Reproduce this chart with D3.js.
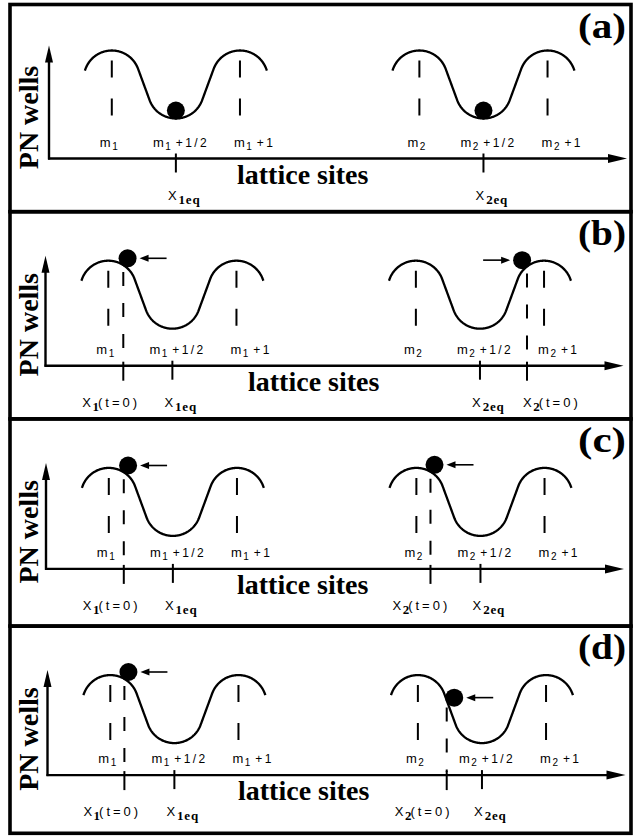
<!DOCTYPE html>
<html>
<head>
<meta charset="utf-8">
<script src="https://cdn.jsdelivr.net/npm/d3@7"></script>
<style>
  html, body { margin: 0; padding: 0; background: #fff; }
  svg { display: block; }
</style>
</head>
<body>
<svg id="chart" width="634" height="836"></svg>
<script>
// Two kinks sitting in Peierls–Nabarro wells, shown at four stages (a)–(d).

// ---- data -------------------------------------------------------------
const panelLabels = ["(a)", "(b)", "(c)", "(d)"];
const kinkIds = ["1", "2"];
const wellOrigins = [0, 2.4];            // m1, m2 in lattice units
const siteOffsets = [0, 0.5, 1];         // m, m+1/2, m+1
const siteSuffixes = ["", "+1/2", "+1"];
const eqOffset = 0.5;                    // X_eq = m + 1/2
// X(t=0) − m of each kink in each panel (null: kink rests at X_eq)
const startOffsets = [[null, null], [0.117, 0.867], [0.117, 0.11], [0.11, 0.225]];
// push applied to each kink: −1 to the left, +1 to the right, 0 none
const pushDirections = [[0, 0], [-1, 1], [-1, -1], [-1, -1]];
const xTitle = "lattice sites";
const yTitle = "PN wells";
const wellExtent = [-0.21, 1.21];        // drawn part of each well, relative to m
const axisDomain = [-0.49, 4.02];        // lattice coordinate at the y axis and at the arrow tip

// ---- layout -----------------------------------------------------------
const frame = { left: 10, right: 631, top: 4.5, panelH: 207.2 };
const panelShift = [0, -3.5, -3, -1.5];
const axisRel = [154, 154, 150, 149];
const humpRel = [46, 49, 49, 49];
const titleShift = [0, 11, 0, 1];
const siteLabelDx = [-12, -23, -6];
const t0LabelDx = [[0, 0], [-41, -4], [-41, -38], [-41, -52]];
const eqLabelDx = -8;
const ballR = 9;
const depthPx = 68, arcR = 28;

const serif = "'Liberation Serif', 'Times New Roman', serif";
const sans = "'Liberation Sans', Arial, sans-serif";

const svg = d3.select("#chart");
const xScale = d3.scaleLinear().domain(axisDomain).range([49, 627]);
const periodPx = xScale(1) - xScale(0);

// Well profile: circular humps and troughs joined by straight flanks.
// u = horizontal distance (px) from the nearest hump; returns drop below hump top (px).
function makeProfile(period, depth, R) {
  const half = period / 2, q = period / 4, hd = depth / 2;
  const L = Math.hypot(q, hd - R);
  const th = Math.atan2(hd - R, q) - Math.acos(R / L);
  const tx = R * Math.cos(th), ty = R + R * Math.sin(th);
  const k = (hd - ty) / (q - tx);
  return u => {
    if (u <= tx) return R - Math.sqrt(Math.max(0, R * R - u * u));
    if (u >= half - tx) {
      const w = half - u;
      return depth - (R - Math.sqrt(Math.max(0, R * R - w * w)));
    }
    return hd + (u - q) * k;
  };
}
const dropAt = makeProfile(periodPx, depthPx, arcR);
// potential in [-1, 1] (1 on a hump, −1 at the well bottom)
function potential(v, m) {
  const s = Math.min(Math.abs(v - m), Math.abs(v - m - 1));
  return 1 - 2 * dropAt(s * periodPx) / depthPx;
}

// panel frames
panelLabels.forEach((lab, p) => {
  const top = frame.top + p * frame.panelH;
  svg.append("rect")
    .attr("x", frame.left).attr("y", top)
    .attr("width", frame.right - frame.left).attr("height", frame.panelH)
    .attr("fill", "none").attr("stroke", "#000").attr("stroke-width", 3.6);
});

function smallText(g, xPos, yPos) {
  return g.append("text").attr("x", xPos).attr("y", yPos)
    .attr("font-family", sans).attr("font-size", 13).attr("fill", "#000");
}

panelLabels.forEach((lab, p) => {
  const top = frame.top + p * frame.panelH;
  const sh = panelShift[p];
  const x = v => xScale(v) + sh;
  const axisY = top + axisRel[p];
  const yScale = d3.scaleLinear().domain([-1, 1]).range([top + humpRel[p] + depthPx, top + humpRel[p]]);
  const g = svg.append("g");

  // axes with arrow heads
  const ax = x(axisDomain[0]), tipX = x(axisDomain[1]);
  const tipY = top + humpRel[p] - 5;
  g.append("line").attr("x1", ax).attr("y1", axisY + 1).attr("x2", ax).attr("y2", tipY + 12)
    .attr("stroke", "#000").attr("stroke-width", 2.4);
  g.append("path").attr("d", `M${ax},${tipY} L${ax - 4},${tipY + 17} L${ax + 4},${tipY + 17} Z`).attr("fill", "#000");
  g.append("line").attr("x1", ax - 1).attr("y1", axisY).attr("x2", tipX - 12).attr("y2", axisY)
    .attr("stroke", "#000").attr("stroke-width", 2.4);
  g.append("path").attr("d", `M${tipX},${axisY} L${tipX - 19},${axisY - 4.5} L${tipX - 19},${axisY + 4.5} Z`).attr("fill", "#000");

  // axis titles and panel label
  g.append("text").attr("x", 237 + titleShift[p]).attr("y", axisY + 25)
    .attr("font-family", serif).attr("font-weight", "bold").attr("font-size", 28)
    .text(xTitle);
  g.append("text").attr("transform", `translate(38,${top + 113}) rotate(-90)`)
    .attr("text-anchor", "middle")
    .attr("font-family", serif).attr("font-weight", "bold").attr("font-size", 28)
    .text(yTitle);
  g.append("text").attr("x", 578).attr("y", top + 33)
    .attr("font-family", serif).attr("font-weight", "bold").attr("font-size", 35)
    .attr("textLength", 48).attr("lengthAdjust", "spacingAndGlyphs")
    .text(lab);

  kinkIds.forEach((id, k) => {
    const m = wellOrigins[k];
    const pts = d3.range(m + wellExtent[0], m + wellExtent[1] + 1e-9, 0.004).map(v => [v, potential(v, m)]);
    const line = d3.line().x(d => x(d[0])).y(d => yScale(d[1])).curve(d3.curveLinear);
    g.append("path").attr("d", line(pts)).attr("fill", "none")
      .attr("stroke", "#000").attr("stroke-width", 2.3).attr("stroke-linejoin", "round");

    // dashed markers at the lattice sites m and m+1
    [0, 1].forEach(o => {
      g.append("line").attr("x1", x(m + o)).attr("x2", x(m + o))
        .attr("y1", yScale(1) + 10).attr("y2", yScale(1) + 66)
        .attr("stroke", "#000").attr("stroke-width", 2).attr("stroke-dasharray", "17,21");
    });

    // site labels
    siteOffsets.forEach((o, i) => {
      const t = smallText(g, x(m + o) + siteLabelDx[i], axisY - 12);
      t.append("tspan").text("m");
      t.append("tspan").attr("font-size", 10).attr("dx", 1.5).attr("dy", 3).text(id);
      if (siteSuffixes[i]) {
        t.append("tspan").attr("dx", 5).attr("dy", -3).attr("font-size", 12)
          .attr("letter-spacing", 2.4).text(siteSuffixes[i]);
      }
    });

    // equilibrium position tick and label
    const xe = x(m + eqOffset);
    g.append("line").attr("x1", xe).attr("x2", xe).attr("y1", axisY - 5).attr("y2", axisY + 14)
      .attr("stroke", "#000").attr("stroke-width", 2);
    const te = smallText(g, xe + eqLabelDx, axisY + 41);
    te.append("tspan").text("X");
    te.append("tspan").attr("dx", 2).attr("dy", 4).attr("font-family", serif).attr("font-weight", "bold")
      .attr("font-size", 13).attr("letter-spacing", 0.8).text(id + "eq");

    // kink (ball) position
    const s0 = startOffsets[p][k];
    const xb = m + (s0 === null ? eqOffset : s0);
    const px0 = x(xb), py0 = yScale(potential(xb, m));
    const dv = 0.5 / periodPx;
    const slope = yScale(potential(xb + dv, m)) - yScale(potential(xb - dv, m));
    const nrm = Math.hypot(slope, 1);
    const cx = px0 + (ballR - 1) * slope / nrm, cy = py0 - (ballR - 1) / nrm;

    if (s0 !== null) {
      // initial position: dashed drop line, tick and label
      g.append("line").attr("x1", px0).attr("x2", px0).attr("y1", py0 + 7).attr("y2", axisY - 3)
        .attr("stroke", "#000").attr("stroke-width", 2).attr("stroke-dasharray", "14,17");
      g.append("line").attr("x1", px0).attr("x2", px0).attr("y1", axisY - 4).attr("y2", axisY + 15)
        .attr("stroke", "#000").attr("stroke-width", 2);
      const tt = smallText(g, px0 + t0LabelDx[p][k], axisY + 41);
      tt.append("tspan").text("X");
      tt.append("tspan").attr("dx", 1.5).attr("dy", 4).attr("font-family", serif).attr("font-weight", "bold")
        .attr("font-size", 13).text(id);
      tt.append("tspan").attr("dx", -1).attr("dy", -4).attr("letter-spacing", 3).text("(t=0)");
    }

    g.append("circle").attr("cx", cx).attr("cy", cy).attr("r", ballR).attr("fill", "#000");

    // push arrow pointing at the kink
    const dir = pushDirections[p][k];
    if (dir !== 0) {
      const tip = cx - dir * (ballR + 3);
      const tail = tip - dir * 27;
      g.append("line").attr("x1", tail).attr("y1", cy).attr("x2", tip - dir * 6).attr("y2", cy)
        .attr("stroke", "#000").attr("stroke-width", 1.6);
      g.append("path").attr("d", `M${tip},${cy} L${tip - dir * 9},${cy - 3.5} L${tip - dir * 9},${cy + 3.5} Z`)
        .attr("fill", "#000");
    }
  });
});
</script>
</body>
</html>
